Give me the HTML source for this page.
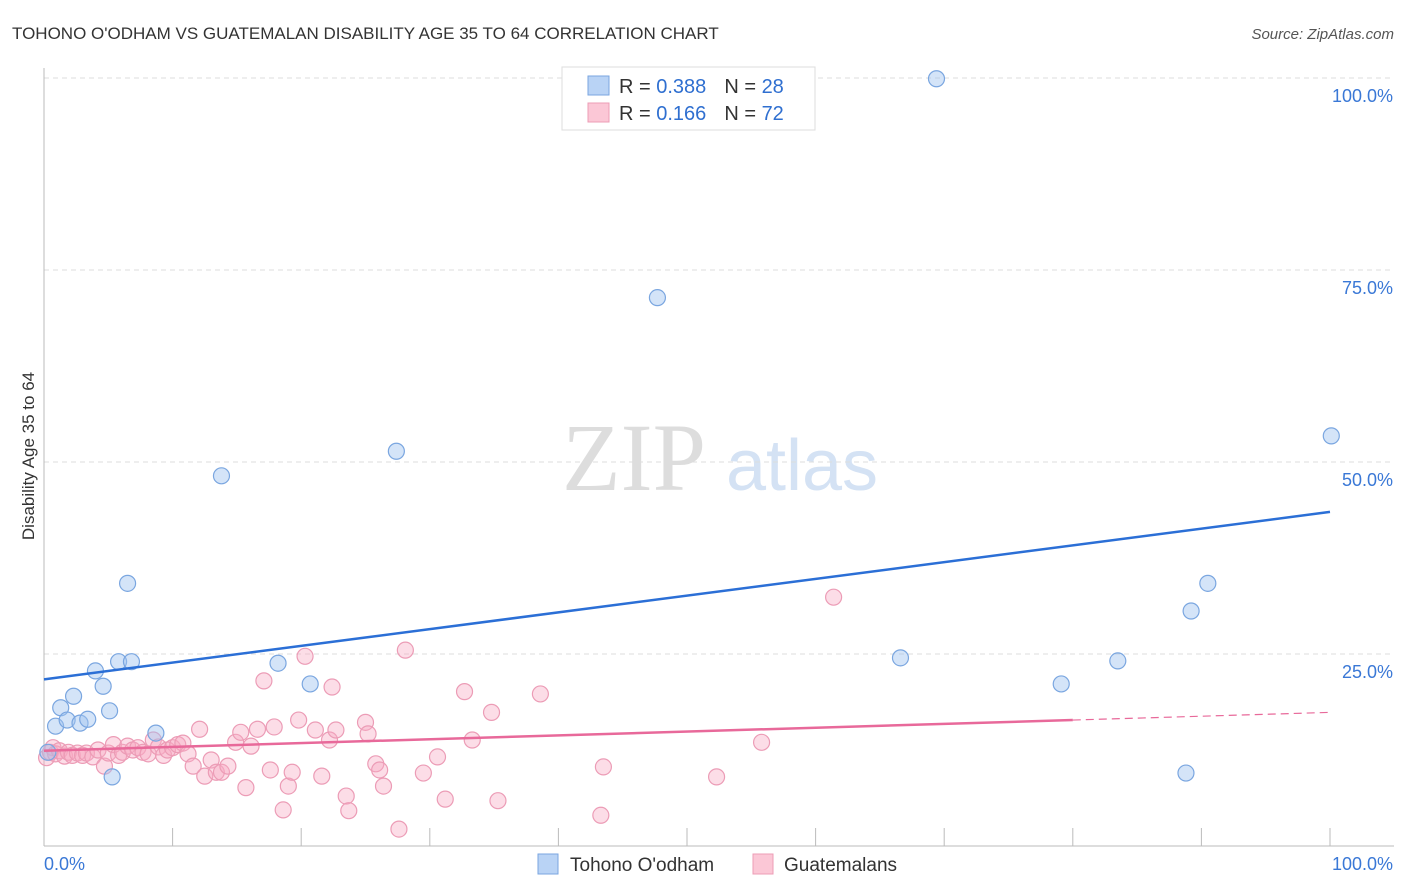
<!DOCTYPE html>
<html><head><meta charset="utf-8"><style>
body{margin:0;background:#fff;font-family:"Liberation Sans",sans-serif;}
svg{display:block}
</style></head><body>
<svg id="c" width="1406" height="892" xmlns="http://www.w3.org/2000/svg">
<text x="12" y="39" font-size="17" fill="#333">TOHONO O'ODHAM VS GUATEMALAN DISABILITY AGE 35 TO 64 CORRELATION CHART</text>
<text x="1394" y="39" font-size="15" fill="#555" font-style="italic" text-anchor="end">Source: ZipAtlas.com</text>
<text x="34" y="456" font-size="17" fill="#333" text-anchor="middle" transform="rotate(-90 34 456)">Disability Age 35 to 64</text>
<g>
<text x="634" y="490" font-size="96" fill="#ddd" font-family="Liberation Serif,serif" text-anchor="middle">ZIP</text>
<text x="802" y="490" font-size="72" fill="#d4e2f4" text-anchor="middle">atlas</text>
</g>
<g id="grid"></g><g id="axes"></g><g id="pts"></g><g id="lines"></g>
<g>
<rect x="562" y="67" width="253" height="63" fill="#fff" stroke="#ddd"/>
<rect x="588" y="76" width="21" height="19" fill="#b9d3f5" stroke="#7aa6e0"/>
<rect x="588" y="103" width="21" height="19" fill="#fbc7d6" stroke="#ec9cb6"/>
<text x="619" y="93" font-size="20" fill="#333">R = <tspan fill="#2f6fd0">0.388</tspan><tspan dx="18">N = </tspan><tspan fill="#2f6fd0">28</tspan></text>
<text x="619" y="120" font-size="20" fill="#333">R =  <tspan fill="#2f6fd0">0.166</tspan><tspan dx="18">N = </tspan><tspan fill="#2f6fd0">72</tspan></text>
</g>
<g>
<rect x="538" y="854" width="20" height="20" fill="#b9d3f5" stroke="#7aa6e0"/>
<text x="570" y="871" font-size="19" fill="#333">Tohono O'odham</text>
<rect x="753" y="854" width="20" height="20" fill="#fbc7d6" stroke="#ec9cb6"/>
<text x="784" y="871" font-size="19" fill="#333">Guatemalans</text>
</g>
</svg>
<script>
const yTicks=[25,50,75,100];
const yTickLabels=["25.0%","50.0%","75.0%","100.0%"];
const xTicks=[0,10,20,30,40,50,60,70,80,90,100];
const blueX=[0.3,0.9,1.3,1.8,2.3,2.8,3.4,4.0,4.6,5.1,5.3,5.8,6.5,6.8,8.7,13.8,18.2,20.7,27.4,47.7,66.6,69.4,79.1,83.5,88.8,89.2,90.5,100.1];
const blueY=[12.2,15.6,18.0,16.4,19.5,16.0,16.5,22.8,20.8,17.6,9.0,24.0,34.2,24.0,14.7,48.2,23.8,21.1,51.4,71.4,24.5,99.9,21.1,24.1,9.5,30.6,34.2,53.4];
const pinkX=[0.2,0.5,0.7,0.9,1.2,1.6,1.9,2.2,2.6,3.0,3.3,3.8,4.2,4.7,5.0,5.4,5.8,6.1,6.5,6.9,7.3,7.7,8.1,8.5,8.9,9.3,9.6,10.0,10.4,10.8,11.2,11.6,12.1,12.5,13.0,13.4,13.8,14.3,14.9,15.3,15.7,16.1,16.6,17.1,17.6,17.9,18.6,19.0,19.3,19.8,20.3,21.1,21.6,22.2,22.4,22.7,23.5,23.7,25.0,25.2,25.8,26.1,26.4,27.6,28.1,29.5,30.6,31.2,32.7,33.3,34.8,35.3,38.6,43.3,43.5,52.3,55.8,61.4];
const pinkY=[11.5,12.2,12.8,12.0,12.4,11.7,12.2,11.8,12.1,11.8,12.1,11.6,12.5,10.4,12.1,13.2,11.8,12.2,13.0,12.5,12.8,12.2,12.0,13.8,12.9,11.8,12.5,12.8,13.2,13.4,12.0,10.4,15.2,9.1,11.2,9.6,9.6,10.4,13.5,14.8,7.6,13.0,15.2,21.5,9.9,15.5,4.7,7.8,9.6,16.4,24.7,15.1,9.1,13.8,20.7,15.1,6.5,4.6,16.1,14.6,10.7,9.9,7.8,2.2,25.5,9.5,11.6,6.1,20.1,13.8,17.4,5.9,19.8,4.0,10.3,9.0,13.5,32.4];
const blueLine=[21.7,43.5];
const pinkLine=[12.4,17.4];
const pinkSolidEnd=80;
const NS="http://www.w3.org/2000/svg";
const sx=v=>44+v*12.86, sy=v=>846-v*7.68;
function mk(tag,attrs,parent){const e=document.createElementNS(NS,tag);for(const k in attrs)e.setAttribute(k,attrs[k]);document.getElementById(parent).appendChild(e);return e;}
yTicks.forEach((t,i)=>{
 const g=mk('line',{x1:44,x2:1394,y1:sy(t),y2:sy(t),stroke:'#ddd','stroke-dasharray':'5,4'},'grid');
 
 
 const l=mk('text',{x:1393,y:sy(t)+24,'font-size':18,fill:'#3a78d6','text-anchor':'end'},'axes');
 l.textContent=yTickLabels[i];
 
 
});
const ax=mk('line',{x1:44,x2:1394,y1:846,y2:846,stroke:'#bbb'},'axes');


const ay=mk('line',{x1:44,x2:44,y1:68,y2:846,stroke:'#bbb'},'axes');


xTicks.forEach(t=>{
 const e=mk('line',{x1:sx(t),x2:sx(t),y1:828,y2:846,stroke:'#bbb'},'axes');
 
 
});
const l0=mk('text',{x:44,y:870,'font-size':18,fill:'#3a78d6'},'axes');l0.textContent='0.0%';


const l1=mk('text',{x:1393,y:870,'font-size':18,fill:'#3a78d6','text-anchor':'end'},'axes');l1.textContent='100.0%';


pinkX.forEach((x,i)=>{
 const c=mk('circle',{cx:sx(x),cy:sy(pinkY[i]),r:8,fill:'rgba(247,170,195,0.4)',stroke:'#ec9cb6','stroke-width':1.2},'pts');
 
 
});
blueX.forEach((x,i)=>{
 const c=mk('circle',{cx:sx(x),cy:sy(blueY[i]),r:8,fill:'rgba(160,195,240,0.45)',stroke:'#7aa6e0','stroke-width':1.2},'pts');
 
 
});
const bl=mk('line',{x1:sx(0),y1:sy(blueLine[0]),x2:sx(100),y2:sy(blueLine[1]),stroke:'#2b6fd6','stroke-width':2.5},'lines');


const pm=pinkLine[0]+(pinkLine[1]-pinkLine[0])*pinkSolidEnd/100;
const pl=mk('line',{x1:sx(0),y1:sy(pinkLine[0]),x2:sx(pinkSolidEnd),y2:sy(pm),stroke:'#e8699a','stroke-width':2.5},'lines');


const pd=mk('line',{x1:sx(pinkSolidEnd),y1:sy(pm),x2:sx(100),y2:sy(pinkLine[1]),stroke:'#e8699a','stroke-width':1.2,'stroke-dasharray':'8,5'},'lines');


</script>
</body></html>
